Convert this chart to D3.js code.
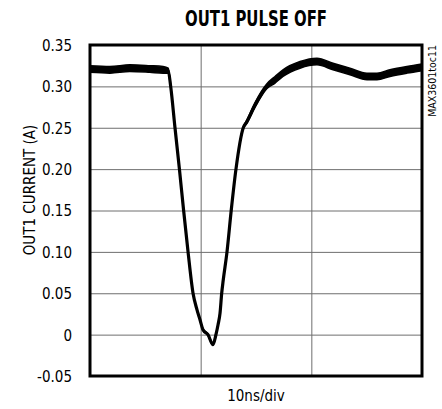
<!DOCTYPE html>
<html>
<head>
<meta charset="utf-8">
<script src="https://cdn.jsdelivr.net/npm/d3@7"></script>
<style>
  body { margin: 0; background: #fff; }
  svg text { font-family: "Liberation Sans Narrow", "DejaVu Sans", sans-serif; font-stretch: condensed; fill: #000; }
  .grid line { stroke: #6e6e6e; stroke-width: 1; }
  .grid path { display: none; }
</style>
</head>
<body>
<div id="chart"></div>
<script>
// trace read from the scope shot, time in ns (3 divisions of 10ns)
var timeNs = [0, 1.8, 3.6, 5.4, 6.6, 7.07, 7.29, 7.68, 8.08, 8.46, 8.86, 9.31, 9.67, 9.94, 10.21, 10.66,
              11.11, 11.38, 11.57, 11.75, 11.9, 12.04, 12.38, 12.76, 13.19, 13.85, 14.16, 14.91, 15.97, 16.72,
              17.44, 18.98, 20.51, 21.96, 23.49, 25.03, 25.93, 27.11, 28.64, 30];
var current = [0.321, 0.320, 0.322, 0.321, 0.320, 0.319, 0.300, 0.250, 0.200, 0.150, 0.100, 0.050, 0.030, 0.018, 0.006, 0.000,
               -0.012, 0.000, 0.012, 0.026, 0.050, 0.066, 0.100, 0.150, 0.200, 0.250, 0.257, 0.2775, 0.300, 0.308,
               0.316, 0.326, 0.330, 0.324, 0.318, 0.312, 0.312, 0.316, 0.320, 0.323];
// half-width of the noise band around the trace
var noise = [0.004, 0.004, 0.004, 0.004, 0.004, 0.003, 0.001, 0, 0, 0, 0, 0, 0, 0, 0.001, 0.001,
             0.001, 0.001, 0, 0, 0, 0, 0, 0, 0, 0.001, 0.002, 0.003, 0.003, 0.004,
             0.004, 0.004, 0.004, 0.004, 0.004, 0.004, 0.004, 0.004, 0.004, 0.004];
var yTicks = [-0.05, 0, 0.05, 0.10, 0.15, 0.20, 0.25, 0.30, 0.35];
var yTickLabels = ["-0.05", "0", "0.05", "0.10", "0.15", "0.20", "0.25", "0.30", "0.35"];
var xDivs = [0, 10, 20, 30];

var w = 442, h = 409;
var m = { left: 90, right: 422, top: 45, bottom: 376 };

var svg = d3.select("#chart").append("svg")
    .attr("width", w)
    .attr("height", h);

var xScale = d3.scaleLinear().domain([0, 30]).range([m.left, m.right]);
var yScale = d3.scaleLinear().domain([-0.05, 0.35]).range([m.bottom, m.top]);

var data = timeNs.map(function(t, i) {
    return { t: t, v: current[i], n: noise[i] };
});

// grid lines
svg.append("g")
    .attr("class", "grid")
    .attr("transform", "translate(" + m.left + ",0)")
    .call(d3.axisLeft(yScale).tickValues(yTicks.slice(1, -1)).tickSize(-(m.right - m.left)).tickFormat(""));

svg.append("g")
    .attr("class", "grid")
    .attr("transform", "translate(0," + m.bottom + ")")
    .call(d3.axisBottom(xScale).tickValues(xDivs.slice(1, -1)).tickSize(-(m.bottom - m.top)).tickFormat(""));

// y tick labels
var yAxis = svg.append("g")
    .attr("transform", "translate(" + (m.left - 18) + ",0)")
    .call(d3.axisLeft(yScale).tickValues(yTicks).tickSize(0).tickPadding(0)
        .tickFormat(function(d, i) { return yTickLabels[i]; }));
yAxis.select(".domain").remove();
yAxis.selectAll("text")
    .style("font-size", "15px")
    .attr("dy", "0.36em");

// noisy trace
var band = d3.area()
    .x(function(d) { return xScale(d.t); })
    .y0(function(d) { return yScale(d.v - d.n); })
    .y1(function(d) { return yScale(d.v + d.n); })
    .curve(d3.curveMonotoneX);

var line = d3.line()
    .x(function(d) { return xScale(d.t); })
    .y(function(d) { return yScale(d.v); })
    .curve(d3.curveMonotoneX);

svg.append("path")
    .datum(data)
    .attr("d", band)
    .style("fill", "#000")
    .style("stroke", "#000")
    .style("stroke-width", 1.5);

svg.append("path")
    .datum(data)
    .attr("d", line)
    .style("fill", "none")
    .style("stroke", "#000")
    .style("stroke-width", 3.2);

// frame
svg.append("rect")
    .attr("x", m.left)
    .attr("y", m.top)
    .attr("width", m.right - m.left)
    .attr("height", m.bottom - m.top)
    .style("fill", "none")
    .style("stroke", "#000")
    .style("stroke-width", 3);

// texts
svg.append("text")
    .attr("x", (m.left + m.right) / 2)
    .attr("y", 26)
    .attr("text-anchor", "middle")
    .attr("textLength", 142)
    .attr("lengthAdjust", "spacingAndGlyphs")
    .style("font-size", "21px")
    .style("font-weight", "bold")
    .text("OUT1 PULSE OFF");

svg.append("text")
    .attr("transform", "translate(35,190) rotate(-90)")
    .attr("text-anchor", "middle")
    .style("font-size", "15px")
    .text("OUT1 CURRENT (A)");

svg.append("text")
    .attr("x", (m.left + m.right) / 2)
    .attr("y", 401)
    .attr("text-anchor", "middle")
    .style("font-size", "15px")
    .text("10ns/div");

svg.append("text")
    .attr("transform", "translate(436," + m.top + ") rotate(-90)")
    .attr("text-anchor", "end")
    .style("font-size", "10.5px")
    .text("MAX3601toc11");
</script>
</body>
</html>
